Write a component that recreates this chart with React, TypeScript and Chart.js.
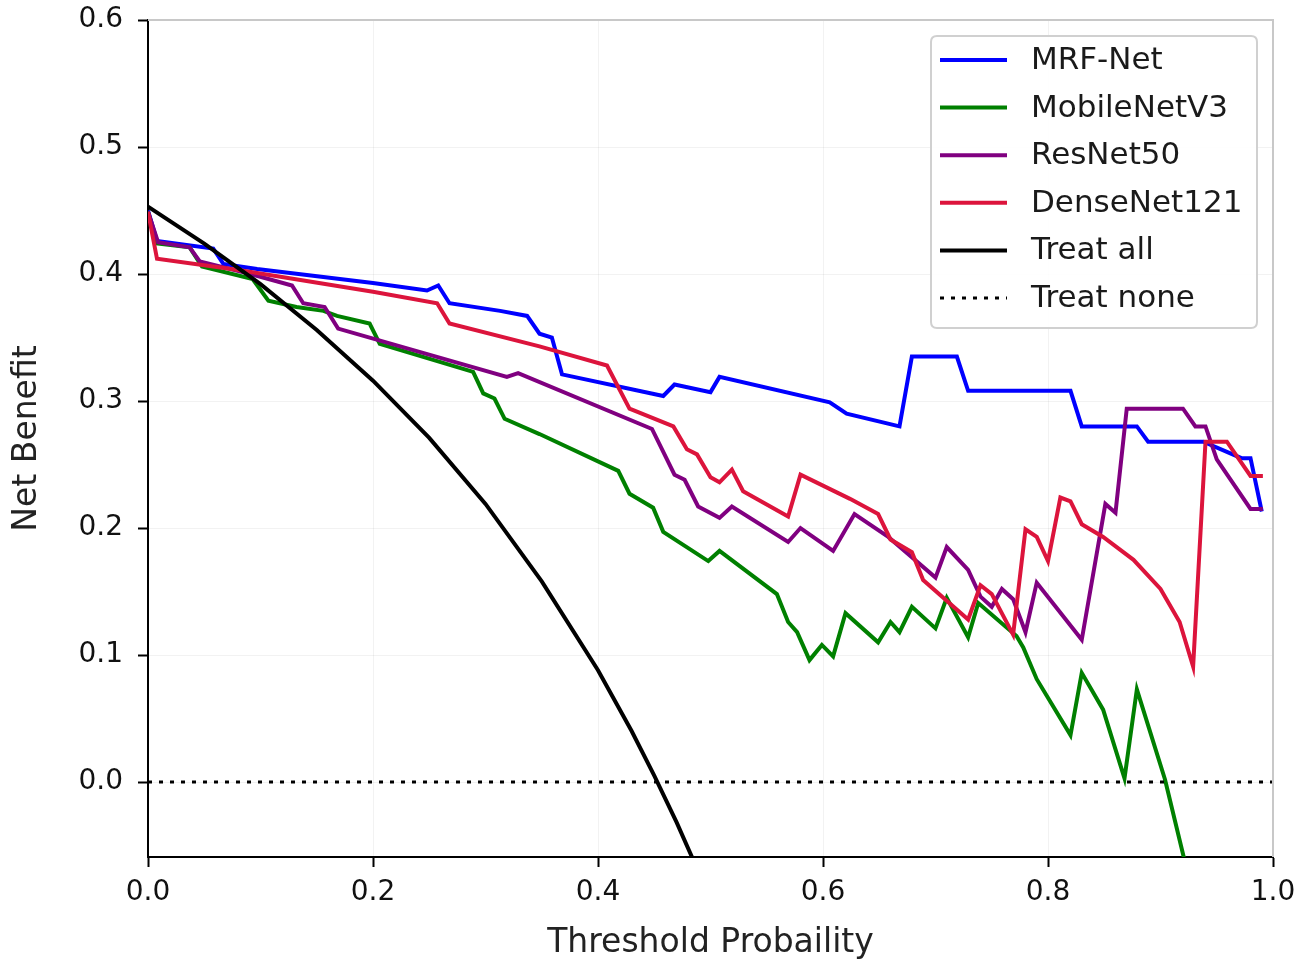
import React, { useEffect, useRef } from "react";
import { Chart, registerables } from "chart.js";
Chart.register(...registerables);

const FONT = "'DejaVu Sans', Verdana, sans-serif";

const mrfX = [0, 0.008, 0.058, 0.067, 0.097, 0.2, 0.248, 0.258, 0.268, 0.313, 0.337, 0.348, 0.359, 0.368, 0.458, 0.468, 0.5, 0.508, 0.606, 0.621, 0.668, 0.679, 0.719, 0.729, 0.82, 0.83, 0.879, 0.889, 0.938, 0.972, 0.98, 0.99];
const mrfY = [0.45, 0.426, 0.42, 0.408, 0.404, 0.393, 0.387, 0.391, 0.377, 0.371, 0.367, 0.353, 0.35, 0.321, 0.304, 0.313, 0.307, 0.319, 0.299, 0.29, 0.28, 0.335, 0.335, 0.308, 0.308, 0.28, 0.28, 0.268, 0.268, 0.255, 0.255, 0.213];

const mobX = [0, 0.008, 0.037, 0.048, 0.093, 0.107, 0.132, 0.156, 0.168, 0.197, 0.206, 0.289, 0.298, 0.308, 0.317, 0.348, 0.418, 0.428, 0.449, 0.458, 0.498, 0.508, 0.559, 0.569, 0.577, 0.588, 0.599, 0.609, 0.62, 0.649, 0.66, 0.668, 0.679, 0.7, 0.71, 0.729, 0.738, 0.772, 0.778, 0.79, 0.82, 0.83, 0.849, 0.868, 0.879, 0.891, 0.904, 0.925];
const mobY = [0.449, 0.424, 0.421, 0.406, 0.396, 0.379, 0.374, 0.371, 0.367, 0.361, 0.345, 0.323, 0.306, 0.302, 0.286, 0.274, 0.245, 0.227, 0.216, 0.197, 0.174, 0.182, 0.148, 0.126, 0.118, 0.096, 0.108, 0.099, 0.133, 0.11, 0.126, 0.118, 0.138, 0.121, 0.145, 0.114, 0.141, 0.115, 0.106, 0.081, 0.037, 0.086, 0.057, 0.003, 0.073, 0.039, 0.002, -0.075];

const resX = [0, 0.009, 0.037, 0.046, 0.091, 0.128, 0.138, 0.157, 0.169, 0.319, 0.329, 0.448, 0.468, 0.477, 0.489, 0.508, 0.519, 0.569, 0.58, 0.609, 0.628, 0.658, 0.7, 0.71, 0.729, 0.74, 0.75, 0.759, 0.769, 0.78, 0.79, 0.83, 0.851, 0.86, 0.87, 0.92, 0.931, 0.94, 0.95, 0.98, 0.991];
const resY = [0.449, 0.425, 0.421, 0.41, 0.4, 0.391, 0.377, 0.374, 0.357, 0.319, 0.322, 0.278, 0.242, 0.238, 0.217, 0.208, 0.217, 0.189, 0.2, 0.182, 0.211, 0.193, 0.161, 0.185, 0.167, 0.146, 0.138, 0.152, 0.144, 0.118, 0.157, 0.112, 0.219, 0.212, 0.294, 0.294, 0.28, 0.28, 0.254, 0.215, 0.215];

const denX = [0, 0.008, 0.082, 0.2, 0.257, 0.268, 0.348, 0.408, 0.428, 0.467, 0.479, 0.488, 0.5, 0.508, 0.519, 0.529, 0.569, 0.58, 0.624, 0.649, 0.66, 0.679, 0.689, 0.729, 0.74, 0.75, 0.769, 0.78, 0.79, 0.8, 0.811, 0.82, 0.83, 0.849, 0.876, 0.9, 0.917, 0.929, 0.94, 0.959, 0.98, 0.991];
const denY = [0.449, 0.412, 0.403, 0.386, 0.377, 0.361, 0.343, 0.328, 0.294, 0.28, 0.262, 0.258, 0.24, 0.236, 0.246, 0.229, 0.209, 0.242, 0.223, 0.211, 0.191, 0.181, 0.159, 0.128, 0.155, 0.148, 0.116, 0.199, 0.193, 0.174, 0.224, 0.221, 0.203, 0.193, 0.175, 0.152, 0.126, 0.091, 0.268, 0.268, 0.241, 0.241];

const allX = [0, 0.05, 0.1, 0.15, 0.2, 0.25, 0.3, 0.35, 0.4, 0.43, 0.45, 0.47, 0.485];
const allY = [0.453, 0.424, 0.392, 0.356, 0.316, 0.271, 0.219, 0.158, 0.088, 0.04, 0.005, -0.032, -0.062];

const noneX = [0, 1];
const noneY = [0, 0];

const xTicks = [0, 0.2, 0.4, 0.6, 0.8, 1.0];
const yTicks = [0, 0.1, 0.2, 0.3, 0.4, 0.5, 0.6];

const seriesLabels = ["MRF-Net", "MobileNetV3", "ResNet50", "DenseNet121", "Treat all", "Treat none"];
const seriesColors = ["#0000ff", "#008000", "#800080", "#dc143c", "#000000", "#000000"];

function pts(xs: number[], ys: number[]) {
  return xs.map((x, i) => ({ x, y: ys[i] }));
}

export default function App() {
  const ref = useRef<HTMLCanvasElement>(null);
  useEffect(() => {
    document.body.style.margin = "0";
    const canvas = ref.current!;

    const framePlugin = {
      id: "frame",
      afterDatasetsDraw(chart: any) {
        const { ctx, chartArea } = chart;
        ctx.save();
        ctx.strokeStyle = "#c8c8c8";
        ctx.lineWidth = 2;
        ctx.beginPath();
        ctx.moveTo(chartArea.left, chartArea.top);
        ctx.lineTo(chartArea.right, chartArea.top);
        ctx.lineTo(chartArea.right, chartArea.bottom);
        ctx.stroke();
        ctx.restore();
      },
    };

    const legendPlugin = {
      id: "customLegend",
      afterDraw(chart: any) {
        const { ctx } = chart;
        const bx = 931, by = 36, bw = 326, bh = 292, r = 6;
        ctx.save();
        ctx.beginPath();
        ctx.moveTo(bx + r, by);
        ctx.lineTo(bx + bw - r, by);
        ctx.quadraticCurveTo(bx + bw, by, bx + bw, by + r);
        ctx.lineTo(bx + bw, by + bh - r);
        ctx.quadraticCurveTo(bx + bw, by + bh, bx + bw - r, by + bh);
        ctx.lineTo(bx + r, by + bh);
        ctx.quadraticCurveTo(bx, by + bh, bx, by + bh - r);
        ctx.lineTo(bx, by + r);
        ctx.quadraticCurveTo(bx, by, bx + r, by);
        ctx.closePath();
        ctx.fillStyle = "rgba(255,255,255,0.85)";
        ctx.fill();
        ctx.strokeStyle = "#d0d0d0";
        ctx.lineWidth = 2;
        ctx.stroke();
        chart.data.datasets.forEach((ds: any, i: number) => {
          const cy = 60 + i * 47.6;
          ctx.beginPath();
          ctx.setLineDash(ds.borderDash || []);
          ctx.strokeStyle = ds.borderColor;
          ctx.lineWidth = ds.borderWidth;
          ctx.moveTo(940, cy);
          ctx.lineTo(1007, cy);
          ctx.stroke();
          ctx.setLineDash([]);
          ctx.fillStyle = "#1a1a1a";
          ctx.font = `31px ${FONT}`;
          ctx.textBaseline = "middle";
          ctx.textAlign = "left";
          ctx.fillText(ds.label, 1031, cy + 1);
        });
        ctx.restore();
      },
    };

    const seriesData = [
      pts(mrfX, mrfY),
      pts(mobX, mobY),
      pts(resX, resY),
      pts(denX, denY),
      pts(allX, allY),
      pts(noneX, noneY),
    ];

    const chart = new Chart(canvas, {
      type: "line",
      data: {
        datasets: seriesData.map((d, i) => ({
          label: seriesLabels[i],
          data: d,
          borderColor: seriesColors[i],
          backgroundColor: seriesColors[i],
          borderWidth: i === 5 ? 3 : 4,
          borderDash: i === 5 ? [4, 7] : undefined,
          pointRadius: 0,
          fill: false,
          tension: 0,
          order: 10 - i,
        })),
      },
      options: {
        responsive: false,
        animation: false,
        devicePixelRatio: 1,
        layout: { padding: { top: 20, right: 39, left: 0, bottom: 0 } },
        plugins: {
          legend: { display: false },
          tooltip: { enabled: false },
        },
        scales: {
          x: {
            type: "linear",
            min: 0,
            max: 1,
            afterFit: (s: any) => {
              s.height = 110;
              s.paddingLeft = 0;
              s.paddingRight = 0;
            },
            afterBuildTicks: (s: any) => {
              s.ticks = xTicks.map((v) => ({ value: v }));
            },
            ticks: {
              callback: (v: any) => Number(v).toFixed(1),
              font: { size: 28, family: FONT },
              color: "#111",
              padding: 9,
              maxRotation: 0,
            },
            grid: {
              color: "rgba(0,0,0,0.05)",
              tickColor: "#000",
              tickLength: 10,
              tickWidth: 2,
            },
            border: { color: "#000", width: 2 },
            title: {
              display: true,
              text: "Threshold Probaility",
              font: { size: 33, family: FONT },
              color: "#222",
              padding: { top: 0, bottom: 4 },
            },
          },
          y: {
            type: "linear",
            min: -0.059,
            max: 0.6,
            afterFit: (s: any) => {
              s.width = 148;
              s.paddingTop = 0;
              s.paddingBottom = 0;
            },
            afterBuildTicks: (s: any) => {
              s.ticks = yTicks.map((v) => ({ value: v }));
            },
            ticks: {
              callback: (v: any) => Number(v).toFixed(1),
              font: { size: 28, family: FONT },
              color: "#111",
              padding: 15,
            },
            grid: {
              color: "rgba(0,0,0,0.05)",
              tickColor: "#000",
              tickLength: 10,
              tickWidth: 2,
            },
            border: { color: "#000", width: 2 },
            title: {
              display: true,
              text: "Net Benefit",
              font: { size: 33, family: FONT },
              color: "#222",
              padding: { top: 8, bottom: 0 },
            },
          },
        },
      },
      plugins: [framePlugin, legendPlugin],
    } as any);
    return () => chart.destroy();
  }, []);
  return (
    <canvas
      ref={ref}
      width={1312}
      height={967}
      style={{ display: "block", width: "1312px", height: "967px" }}
    />
  );
}
